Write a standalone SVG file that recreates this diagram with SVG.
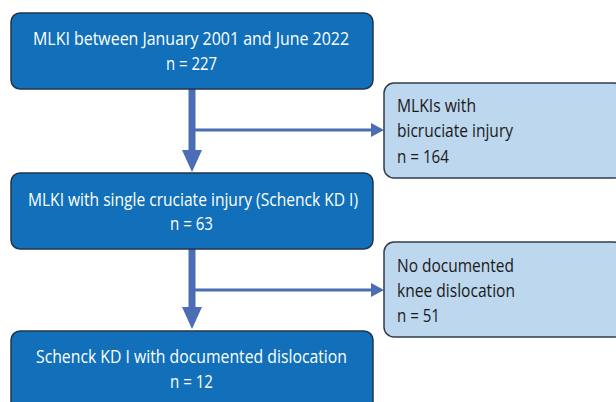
<svg xmlns="http://www.w3.org/2000/svg" width="616" height="402" viewBox="0 0 616 402">
<style>
.main{fill:#1170b9;stroke:#22344a;stroke-width:1.5}
.side{fill:#bdd7ee;stroke:#2e3c4c;stroke-width:1.5}
.wt{fill:#ffffff;font-family:"Open Sans","Liberation Sans",sans-serif;font-size:19px;text-anchor:middle}
.dt{fill:#1a1a1a;font-family:"Open Sans","Liberation Sans",sans-serif;font-size:19px}
.arr{fill:#4a6db5}
</style>
<rect width="616" height="402" fill="#ffffff"/>
<g id="connectors">
<rect class="arr" x="188.5" y="89" width="7" height="62"/>
<polygon class="arr" points="182,150 202,150 192,172"/>
<rect class="arr" x="195" y="128.5" width="178" height="3"/>
<polygon class="arr" points="371,123 384,130 371,137"/>
<rect class="arr" x="188.5" y="249" width="7" height="59"/>
<polygon class="arr" points="182,307 202,307 192,329"/>
<rect class="arr" x="195" y="288.5" width="178" height="3"/>
<polygon class="arr" points="371,283 384,290 371,297"/>
</g>
<g id="n1">
<rect class="main" x="11" y="13" width="362" height="76" rx="9"/>
<text class="wt" x="191" y="45" textLength="316" lengthAdjust="spacingAndGlyphs">MLKI between January 2001 and June 2022</text>
<text class="wt" x="191.5" y="70" textLength="51" lengthAdjust="spacingAndGlyphs">n = 227</text>
</g>
<g id="n2">
<rect class="side" x="384" y="83" width="240" height="95" rx="10"/>
<text class="dt" x="397" y="112" textLength="79" lengthAdjust="spacingAndGlyphs">MLKIs with</text>
<text class="dt" x="397" y="137" textLength="116" lengthAdjust="spacingAndGlyphs">bicruciate injury</text>
<text class="dt" x="397" y="163" textLength="52" lengthAdjust="spacingAndGlyphs">n = 164</text>
</g>
<g id="n3">
<rect class="main" x="11" y="173" width="362" height="76" rx="9"/>
<text class="wt" x="193" y="206" textLength="330" lengthAdjust="spacingAndGlyphs">MLKI with single cruciate injury (Schenck KD I)</text>
<text class="wt" x="191.5" y="230" textLength="43" lengthAdjust="spacingAndGlyphs">n = 63</text>
</g>
<g id="n4">
<rect class="side" x="384" y="242" width="240" height="95" rx="10"/>
<text class="dt" x="397" y="272" textLength="117" lengthAdjust="spacingAndGlyphs">No documented</text>
<text class="dt" x="397" y="297" textLength="118" lengthAdjust="spacingAndGlyphs">knee dislocation</text>
<text class="dt" x="397" y="322" textLength="43" lengthAdjust="spacingAndGlyphs">n = 51</text>
</g>
<g id="n5">
<rect class="main" x="11" y="331" width="362" height="90" rx="9"/>
<text class="wt" x="191.5" y="363" textLength="311" lengthAdjust="spacingAndGlyphs">Schenck KD I with documented dislocation</text>
<text class="wt" x="191.5" y="388" textLength="43" lengthAdjust="spacingAndGlyphs">n = 12</text>
</g>
</svg>
